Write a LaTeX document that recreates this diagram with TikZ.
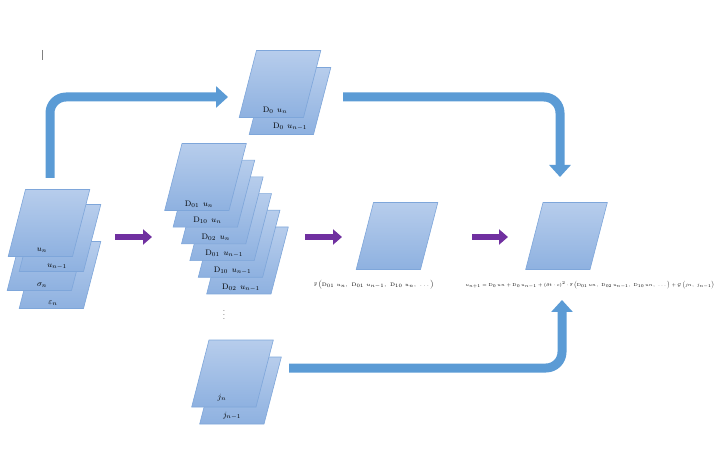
\documentclass[tikz,border=0pt]{standalone}
\usepackage{amsmath,amssymb}
\usetikzlibrary{shapes.geometric, arrows.meta, positioning, calc}
\definecolor{sheettop}{HTML}{B7CDEC}
\definecolor{sheetbot}{HTML}{8EB1E0}
\definecolor{sheetedge}{HTML}{7EA6DA}
\definecolor{flowblue}{HTML}{5B9BD5}
\definecolor{flowpurple}{HTML}{7030A0}
\newcommand{\sheetfill}{\rule{47pt}{0pt}\rule{0pt}{67pt}}

\begin{document}
\begin{tikzpicture}[x=1pt, y=-1pt,
        sheet/.style={trapezium, trapezium left angle=75.5, trapezium right angle=104.5,
            inner sep=0pt, outer sep=0pt,
            top color=sheettop, bottom color=sheetbot, draw=sheetedge, line width=0.6pt},
        lbl/.style={font=\footnotesize, inner sep=0pt},
        eqn/.style={font=\tiny, inner sep=0pt},
        pflow/.style={-{Triangle[length=9pt, width=15pt]}, line width=6pt, flowpurple},
        bflow/.style={-{Triangle[length=12pt, width=21pt]}, line width=9pt, flowblue, rounded corners=16pt}
    ]
        \useasboundingbox (0,0) rectangle (718,457);

        % cursor mark
        \draw[gray, line width=0.8pt] (42,50) -- (42,60);

        % input fields
        \node[sheet] (in4) at (60,275) {\sheetfill};
        \node[sheet] (in3) at (48,257) {\sheetfill};
        \node[sheet] (in2) at (60,238) {\sheetfill};
        \node[sheet] (in1) at (49,223) {\sheetfill};
        \node[lbl] (lin1) at (42,250) {$u_n$};
        \node[lbl] (lin2) at (57,267) {$u_{n-1}$};
        \node[lbl] (lin3) at (42,285) {$\sigma_n$};
        \node[lbl] (lin4) at (53,303) {$\varepsilon_n$};

        % derivative fields
        \foreach \i/\lab in {5/{\mathrm{D}_{02}\;\, u_{n-1}}, 4/{\mathrm{D}_{10}\;\, u_{n-1}}, 3/{\mathrm{D}_{01}\;\, u_{n-1}},
                2/{\mathrm{D}_{02}\;\, u_n}, 1/{\mathrm{D}_{10}\;\, u_n}, 0/{\mathrm{D}_{01}\;\, u_n}} {
            \node[sheet] (d\i) at ({205.5+8.4*\i},{177+16.7*\i}) {\sheetfill};
            \node[lbl] (ld\i) at ({199+8.4*\i},{204+16.7*\i}) {$\lab$};
        }
        \node[lbl] (dots) at (224,312) {$\vdots$};

        % D0 fields
        \node[sheet] (z2) at (290,101) {\sheetfill};
        \node[sheet] (z1) at (280,84) {\sheetfill};
        \node[lbl] (lz1) at (275,110) {$\mathrm{D}_0\;\, u_n$};
        \node[lbl] (lz2) at (290,127) {$\mathrm{D}_0\;\, u_{n-1}$};

        % source fields
        \node[sheet] (j2) at (240.5,390.5) {\sheetfill};
        \node[sheet] (j1) at (232.5,373.5) {\sheetfill};
        \node[lbl] (lj1) at (222,398) {$j_n$};
        \node[lbl] (lj2) at (232,416) {$j_{n-1}$};

        % F and result
        \node[sheet] (f) at (397,236) {\sheetfill};
        \node[sheet] (res) at (566.5,236) {\sheetfill};
        \node[eqn] (feq) at (374,285) {$\mathbb{F}\left(\mathrm{D}_{01}\ u_n,\ \mathrm{D}_{01}\ u_{n-1},\ \mathrm{D}_{10}\ u_n,\ \dots\right)$};
        \node[eqn, scale=0.86] (ueq) at (590,285) {$u_{n+1}=\mathrm{D}_0\,u_n+\mathrm{D}_0\,u_{n-1}+\left(\partial t\cdot c\right)^2\cdot\mathbb{F}\left(\mathrm{D}_{01}\,u_n,\ \mathrm{D}_{02}\,u_{n-1},\ \mathrm{D}_{10}\,u_n,\ \dots\right)+\mathcal{G}\left(j_n,\ j_{n-1}\right)$};

        % flow ends
        \coordinate (p1s) at (115,237); \coordinate (p1e) at (152,237);
        \coordinate (p2s) at (305,237); \coordinate (p2e) at (342,237);
        \coordinate (p3s) at (472,237); \coordinate (p3e) at (508,237);
        \coordinate (b1s) at (50,178);  \coordinate (b1e) at (228,97);
        \coordinate (b2s) at (343,97);  \coordinate (b2e) at (560,177);
        \coordinate (b3s) at (289,368); \coordinate (b3e) at (562,300);

        \draw[pflow] (p1s) -- (p1e);
        \draw[pflow] (p2s) -- (p2e);
        \draw[pflow] (p3s) -- (p3e);
        \draw[bflow] (b1s) |- (b1e);
        \draw[bflow] (b2s) -| (b2e);
        \draw[bflow] (b3s) -| (b3e);
    \end{tikzpicture}
\end{document}
